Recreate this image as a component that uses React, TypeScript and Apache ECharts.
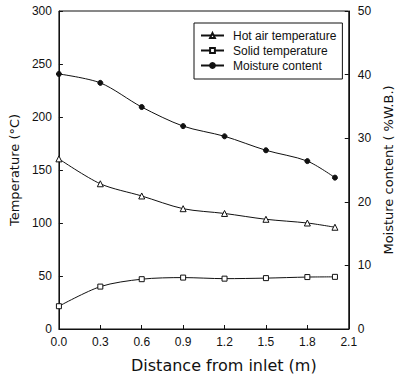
import React, { useEffect, useRef } from "react";
import * as echarts from "echarts";

const distances = [0, 0.3, 0.6, 0.9, 1.2, 1.5, 1.8, 2.0];
const hotAirTemp = [160.5, 137, 125.5, 113.5, 109, 103.5, 100, 96];
const solidTemp = [21.5, 40, 47, 48.5, 47.5, 48, 49, 49.2];
const moistureContent = [40.1, 38.7, 34.9, 31.9, 30.3, 28.1, 26.4, 23.8];
const seriesNames = ["Hot air temperature", "Solid temperature", "Moisture content"];

const INK = "#111";
const TICK_FONT = "Liberation Sans, Arial, sans-serif";
const NAME_FONT = "DejaVu Sans, sans-serif";

export default function App() {
  const ref = useRef<HTMLDivElement>(null);
  useEffect(() => {
    if (!ref.current) return;
    const chart = echarts.init(ref.current, null, { renderer: "svg" });
    const pts = (ys: number[]) => distances.map((x, i) => [x, ys[i]]);
    const lineStyle = { color: INK, width: 1 };
    chart.setOption({
      animation: false,
      backgroundColor: "#fff",
      grid: {
        left: 52,
        right: 40,
        top: 11,
        bottom: 44,
        show: true,
        borderColor: INK,
        borderWidth: 1,
        backgroundColor: "transparent",
      },
      legend: {
        data: seriesNames,
        orient: "vertical",
        left: 194,
        top: 23,
        padding: [5, 6, 6, 6],
        borderColor: INK,
        borderWidth: 1,
        itemWidth: 23,
        itemHeight: 6,
        itemGap: 0,
        textStyle: {
          fontFamily: TICK_FONT,
          fontSize: 12,
          color: INK,
          lineHeight: 15,
          padding: [0, 0, 0, 4],
        },
      },
      xAxis: {
        type: "value",
        min: 0,
        max: 2.1,
        interval: 0.3,
        name: "Distance from inlet (m)",
        nameLocation: "middle",
        nameGap: 28,
        nameTextStyle: {
          fontFamily: NAME_FONT,
          fontSize: 16,
          color: INK,
          padding: [0, 0, 0, 40],
        },
        axisLine: { lineStyle: { color: INK, width: 1 } },
        axisTick: { inside: true, length: 4, lineStyle: { color: INK } },
        axisLabel: {
          color: INK,
          fontFamily: TICK_FONT,
          fontSize: 12,
          margin: 7,
          formatter: (v: number) => v.toFixed(1),
        },
        splitLine: { show: false },
      },
      yAxis: [
        {
          type: "value",
          min: 0,
          max: 300,
          interval: 50,
          name: "Temperature (°C)",
          nameLocation: "middle",
          nameGap: 33,
          nameTextStyle: { fontFamily: NAME_FONT, fontSize: 13, color: INK },
          axisLine: { show: true, lineStyle: { color: INK, width: 1 } },
          axisTick: { show: true, inside: true, length: 4, lineStyle: { color: INK } },
          axisLabel: { color: INK, fontFamily: TICK_FONT, fontSize: 12, margin: 7 },
          splitLine: { show: false },
        },
        {
          type: "value",
          min: 0,
          max: 50,
          interval: 10,
          position: "right",
          name: "Moisture content ( %W.B.)",
          nameLocation: "middle",
          nameGap: 27,
          nameRotate: 90,
          nameTextStyle: { fontFamily: NAME_FONT, fontSize: 13, color: INK },
          axisLine: { show: true, lineStyle: { color: INK, width: 1 } },
          axisTick: { show: true, inside: true, length: 4, lineStyle: { color: INK } },
          axisLabel: { color: INK, fontFamily: TICK_FONT, fontSize: 12, margin: 9 },
          splitLine: { show: false },
        },
      ],
      series: [
        {
          name: seriesNames[0],
          type: "line",
          data: pts(hotAirTemp),
          smooth: 0.3,
          symbol: "triangle",
          symbolSize: 6,
          lineStyle,
          itemStyle: { color: "#fff", borderColor: INK, borderWidth: 1 },
        },
        {
          name: seriesNames[1],
          type: "line",
          data: pts(solidTemp),
          smooth: 0.3,
          symbol: "rect",
          symbolSize: 5,
          lineStyle,
          itemStyle: { color: "#fff", borderColor: INK, borderWidth: 1 },
        },
        {
          name: seriesNames[2],
          type: "line",
          yAxisIndex: 1,
          data: pts(moistureContent),
          smooth: 0.3,
          symbol: "circle",
          symbolSize: 5,
          lineStyle,
          itemStyle: { color: INK, borderColor: INK, borderWidth: 1 },
        },
      ],
    });
    return () => chart.dispose();
  }, []);
  return (
    <div
      ref={ref}
      style={{ position: "fixed", left: 0, top: 0, width: 403, height: 378, background: "#fff" }}
    />
  );
}
